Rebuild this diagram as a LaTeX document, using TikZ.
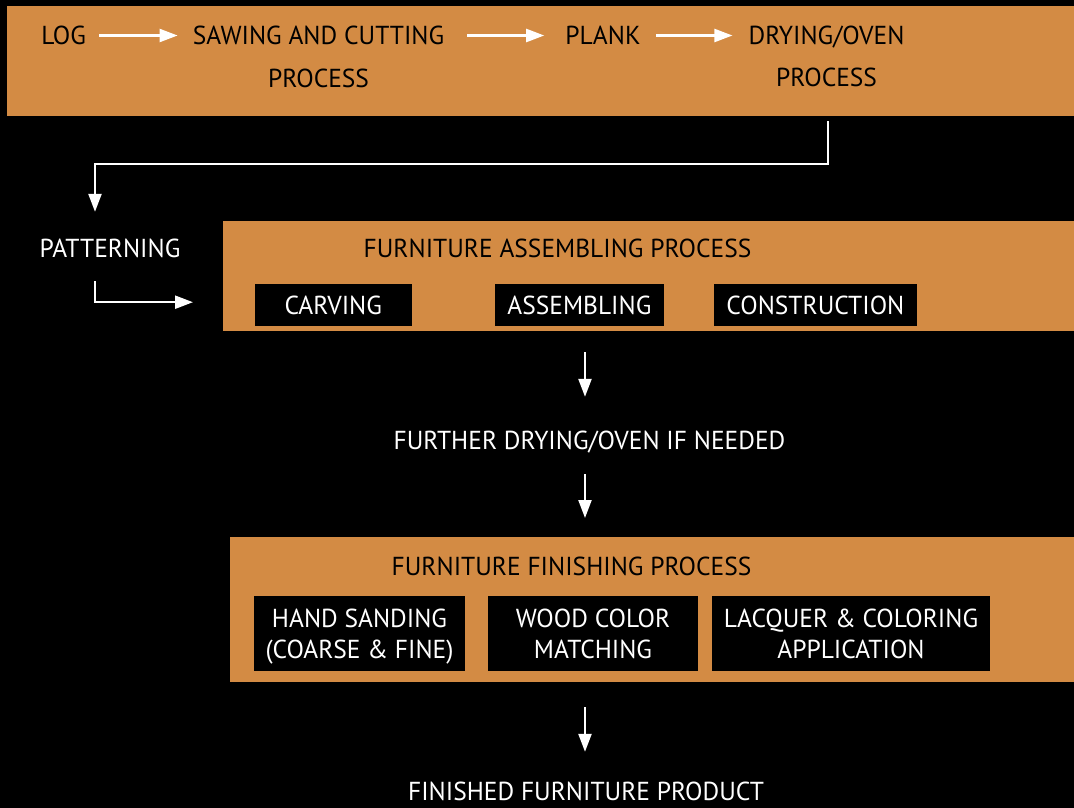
\documentclass[tikz,border=0pt]{standalone}
\usepackage{fontspec}
\setmainfont{PT Sans}[FakeStretch=0.98]
\usetikzlibrary{arrows.meta}
\definecolor{wood}{HTML}{D38B44}
\begin{document}
\begin{tikzpicture}[x=1pt,y=-1pt,
  every node/.style={inner sep=0pt, font=\fontsize{26pt}{31.5pt}\selectfont},
  onband/.style={text=black, text height=18pt, text depth=0pt, anchor=base},
  ontext/.style={text=white, text height=18pt, text depth=0pt, anchor=base},
  band/.style={fill=wood, anchor=north west},
  stepbox/.style={fill=black, text=white, text height=18pt, text depth=0pt},
  twobox/.style={fill=black, text=white, align=center},
  arr/.style={draw=white, line width=2.3pt, -{Triangle[length=18pt,width=13pt]}},
]
% page background and frame
\fill[black] (0,0) rectangle (1074,808);
\useasboundingbox (0,0) rectangle (1074,808);

% orange bands
\node[band, minimum width=1067pt, minimum height=110pt] (topband) at (7,6) {};
\node[band, minimum width=851pt, minimum height=110pt] (asmband) at (223,221) {};
\node[band, minimum width=844pt, minimum height=145pt] (finband) at (230,537) {};

% first row: raw material to dried planks
\node[onband] (log)   at (63.7,44.5)  {LOG};
\node[onband] (saw1)  at (318.5,44.5) {SAWING AND CUTTING};
\node[onband] (saw2)  at (318.5,87.5) {PROCESS};
\node[onband] (plank) at (603,44.5)   {PLANK};
\node[onband] (dry1)  at (826.5,44.5) {DRYING/OVEN};
\node[onband] (dry2)  at (826.5,87)   {PROCESS};

% assembling stage
\node[ontext] (pat) at (110,257) {PATTERNING};
\node[onband] (asmtitle) at (557.5,257) {FURNITURE ASSEMBLING PROCESS};
\node[stepbox, minimum width=156.5pt, minimum height=42pt] (carv) at (333.25,305) {CARVING};
\node[stepbox, minimum width=168.7pt, minimum height=42pt] (assm) at (579.4,305) {ASSEMBLING};
\node[stepbox, minimum width=202.7pt, minimum height=42pt] (cons) at (815.4,305) {CONSTRUCTION};

\node[ontext] (further) at (589.5,449) {FURTHER DRYING/OVEN IF NEEDED};

% finishing stage
\node[twobox, minimum width=211pt, minimum height=75pt] (sand) at (359.5,633.5)
  {HAND SANDING\vphantom{()}\\\smash{(COARSE \& FINE)}};
\node[onband] (fintitle) at (571.5,575) {FURNITURE FINISHING PROCESS};
\node[twobox, minimum width=210pt, minimum height=75pt] (match) at (593,633.5)
  {WOOD COLOR\vphantom{()}\\\smash{MATCHING}};
\node[twobox, minimum width=278pt, minimum height=75pt] (lacq) at (851,633.5)
  {LACQUER \& COLORING\vphantom{()}\\\smash{APPLICATION}};

\node[ontext] (finished) at (586,800) {FINISHED FURNITURE PRODUCT};

% connectors
\draw[arr, shorten <=13pt, shorten >=15pt] (log.east) -- (saw1.west);
\draw[arr, shorten <=23pt, shorten >=21pt] (saw1.east) -- (plank.west);
\draw[arr, shorten <=15.6pt, shorten >=16pt] (plank.east) -- (dry1.west);
\draw[arr, shorten >=27pt] ([shift={(1.5pt,-34pt)}]dry2.south) -- ++(0,43)
  -| ([xshift=-15pt]pat.north);
\draw[arr, shorten >=30pt] ([shift={(-15pt,-24pt)}]pat.south) |- ([yshift=-26pt]asmband.west);
\draw[arr, shorten <=21pt, shorten >=34pt]
  ([xshift=-4.5pt]further.north |- asmband.south) -- ([xshift=-4.5pt]further.north);
\draw[arr, shorten <=25pt, shorten >=19pt]
  ([xshift=-4.5pt]further.south) -- ([xshift=-4.5pt]further.south |- finband.north);
\draw[arr, shorten <=25pt, shorten >=30pt]
  ([xshift=-1pt]finished.north |- finband.south) -- ([xshift=-1pt]finished.north);
\end{tikzpicture}
\end{document}
